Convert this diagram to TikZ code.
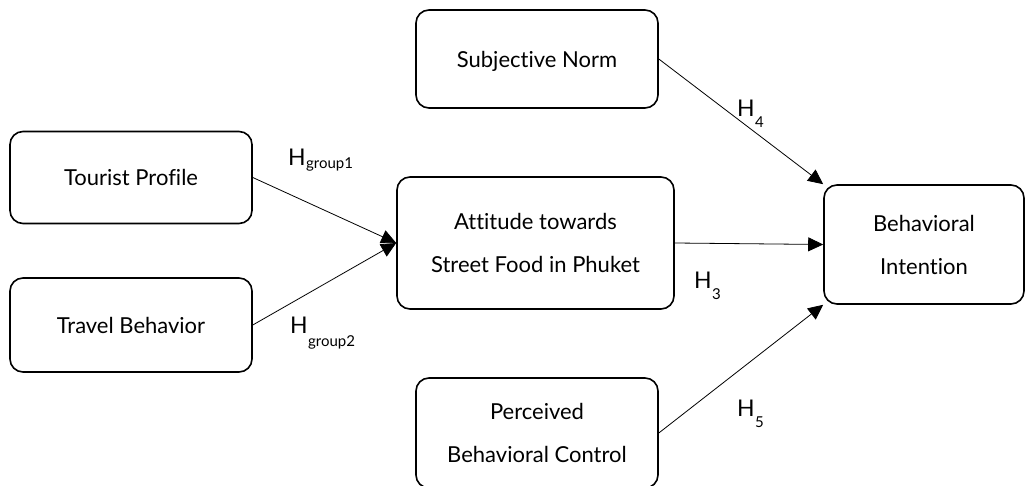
\documentclass[tikz,border=0pt]{standalone}
\usepackage{fontspec}
\setmainfont[Ligatures={NoCommon,NoRequired,NoContextual}]{Lato}
\usetikzlibrary{arrows.meta}
\begin{document}
\begin{tikzpicture}[x=1pt,y=-1pt,
  box/.style={draw,line width=1.6pt,rounded corners=13pt,align=center,inner sep=0pt,
    text depth=0pt,font=\fontsize{22}{43}\selectfont},
  conn/.style={line width=0.8pt,-{Triangle[length=15pt,width=14pt]}},
  hlab/.style={font=\fontsize{23}{24}\selectfont,inner sep=0pt,anchor=base west},
  sublab/.style={font=\fontsize{15}{16}\selectfont,inner sep=0pt,anchor=base west}]
\useasboundingbox (0,0) rectangle (1026,486);
\begin{scope}
\clip (0,0) rectangle (1026,486);
\node[box,minimum width=242pt,minimum height=92pt] (tp) at (131,177.5) {Tourist Profile};
\node[box,minimum width=242pt,minimum height=94pt] (tb) at (131,325) {Travel Behavior};
\node[box,minimum width=277pt,minimum height=132pt] (att) at (535.5,243) {Attitude towards\\Street Food in Phuket};
\node[box,minimum width=242pt,minimum height=98pt] (sn) at (537,59) {Subjective Norm};
\node[box,minimum width=200pt,minimum height=119pt] (bi) at (924,244.5) {Behavioral\\Intention};
\node[box,minimum width=242pt,minimum height=110pt] (pbc) at (537,433) {Perceived\\Behavioral Control};
\end{scope}
\draw[conn] (tp.east) -- (att.west);
\draw[conn] (tb.east) -- (att.west);
\draw[conn] (sn.east) -- (bi.north west);
\draw[conn] (att.east) -- (bi.west);
\draw[conn] (pbc.east) -- (bi.south west);
\node[hlab] (h1) at (288,166) {H};
\node[sublab] (h1s) at (h1.base east) [yshift=-3pt] {group1};
\node[hlab] (h2) at (290,334) {H};
\node[sublab] (h2s) at (h2.base east) [yshift=-13pt] {group2};
\node[hlab] (h4) at (737,117) {H};
\node[sublab] (h4s) at (h4.base east) [yshift=-11pt] {4};
\node[hlab] (h3) at (694,289) {H};
\node[sublab] (h3s) at (h3.base east) [yshift=-11pt] {3};
\node[hlab] (h5) at (737,417) {H};
\node[sublab] (h5s) at (h5.base east) [yshift=-11pt] {5};
\end{tikzpicture}
\end{document}
